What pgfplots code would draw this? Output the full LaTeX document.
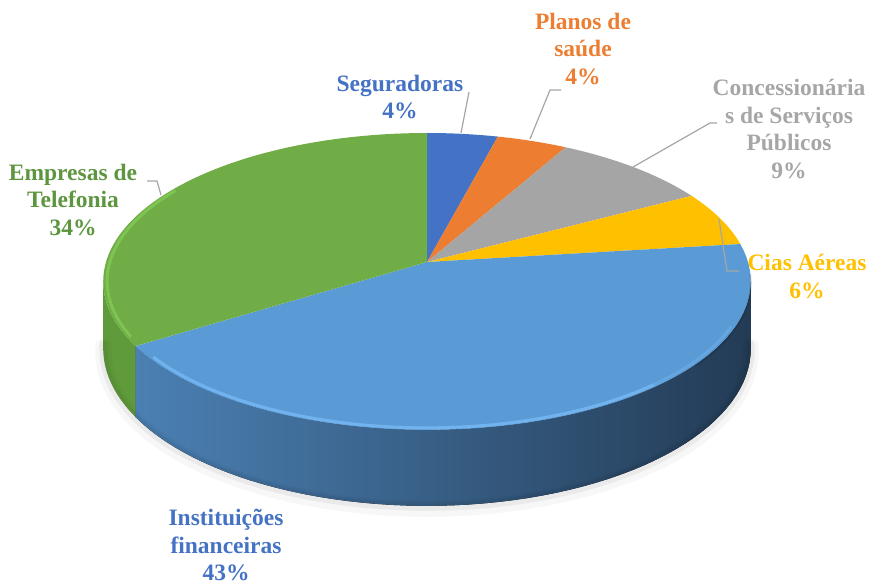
\documentclass[border=0pt]{standalone}
\usepackage{pgfplots}
\pgfplotsset{compat=1.18}
\usepackage{pgfplotstable}
\usepgfplotslibrary{fillbetween}
\usepackage{fontspec}
\setmainfont{Liberation Serif}
\definecolor{cSeg}{HTML}{4472C4}
\definecolor{cPla}{HTML}{ED7D31}
\definecolor{cCon}{HTML}{A5A5A5}
\definecolor{cCia}{HTML}{FFC000}
\definecolor{cIns}{HTML}{5B9BD5}
\definecolor{cTel}{HTML}{70AD47}
\definecolor{cTelSide}{HTML}{5F9B3B}
\definecolor{cTelRim}{HTML}{82CA56}
\definecolor{cInsRim}{HTML}{78BCF8}
\definecolor{cInsL}{HTML}{4B80B3}
\definecolor{cInsM}{HTML}{2F5479}
\definecolor{cInsR}{HTML}{233B55}
\definecolor{cLead}{HTML}{A6A6A6}
\definecolor{tBlue}{HTML}{4472C4}
\definecolor{tGreen}{HTML}{5E9640}
\definecolor{tGray}{HTML}{A6A6A6}

\pgfplotstableread{
name pct
Seguradoras 4
Planos 4
Concessionarias 9
CiasAereas 6
Instituicoes 43
Telefonia 34
}\piedata

\begin{document}
\begin{tikzpicture}
\pgfplotstablegetelem{0}{pct}\of\piedata \edef\pA{\pgfplotsretval}
\pgfplotstablegetelem{1}{pct}\of\piedata \edef\pB{\pgfplotsretval}
\pgfplotstablegetelem{2}{pct}\of\piedata \edef\pC{\pgfplotsretval}
\pgfplotstablegetelem{3}{pct}\of\piedata \edef\pD{\pgfplotsretval}
\pgfplotstablegetelem{4}{pct}\of\piedata \edef\pE{\pgfplotsretval}
\pgfplotstablegetelem{5}{pct}\of\piedata \edef\pF{\pgfplotsretval}
\pgfmathsetmacro\aA{90}
\pgfmathsetmacro\aB{\aA-3.6*\pA}
\pgfmathsetmacro\aC{\aB-3.6*\pB}
\pgfmathsetmacro\aD{\aC-3.6*\pC}
\pgfmathsetmacro\aE{\aD-3.6*\pD}
\pgfmathsetmacro\aF{\aE-3.6*\pE}
\pgfmathsetmacro\aG{\aF-3.6*\pF}
\pgfmathsetmacro\aFa{\aF+5}
\begin{axis}[hide axis, x=1pt, y=1pt, xmin=0, xmax=869, ymin=0, ymax=584,
  enlargelimits=false, clip=false, samples=60, variable=\t,
  declare function={dn(\t)=1+0.131*sin(\t);
    PX(\t)=427+321*cos(\t)/dn(\t);
    PY(\t)=322+145.9*sin(\t)/dn(\t);
    DP(\t)=66/dn(\t);
    RX(\t)=427+0.988*(PX(\t)-427);
    RY(\t)=322+0.988*(PY(\t)-322);}]
\coordinate (BL) at (axis cs:0,0);
\coordinate (TR) at (axis cs:869,584);
% shadow
\addplot[draw=black, opacity=0.03, line width=16pt, domain=-176:-4] ({PX(\t)},{PY(\t)-DP(\t)-3});
\addplot[draw=black, opacity=0.05, line width=8pt, domain=-176:-4] ({PX(\t)},{PY(\t)-DP(\t)-1});
% side walls
\addplot[draw=none, name path=gt, domain=-172.5:\aF] ({PX(\t)},{PY(\t)});
\addplot[draw=none, name path=gb, domain=-172.5:\aF] ({PX(\t)},{PY(\t)-DP(\t)});
\addplot[fill=cTelSide, draw=none] fill between[of=gt and gb];
\addplot[draw=none, name path=bt, domain=\aF:-7.5] ({PX(\t)},{PY(\t)});
\addplot[draw=none, name path=bb, domain=\aF:-7.5] ({PX(\t)},{PY(\t)-DP(\t)});
\addplot[left color=cInsL, middle color=cInsM, right color=cInsR, draw=none] fill between[of=bt and bb];
% top faces
\addplot[fill=cSeg, draw=none, domain=\aB:\aA] ({PX(\t)},{PY(\t)}) -- (axis cs:427,322) -- cycle;
\addplot[fill=cPla, draw=none, domain=\aC:\aB] ({PX(\t)},{PY(\t)}) -- (axis cs:427,322) -- cycle;
\addplot[fill=cCon, draw=none, domain=\aD:\aC] ({PX(\t)},{PY(\t)}) -- (axis cs:427,322) -- cycle;
\addplot[fill=cCia, draw=none, domain=\aE:\aD] ({PX(\t)},{PY(\t)}) -- (axis cs:427,322) -- cycle;
\addplot[fill=cIns, draw=none, domain=\aF:\aE] ({PX(\t)},{PY(\t)}) -- (axis cs:427,322) -- cycle;
\addplot[fill=cTel, draw=none, domain=\aG:\aF] ({PX(\t)},{PY(\t)}) -- (axis cs:427,322) -- cycle;
% rim highlights (bevel)
\addplot[draw=cInsRim, line width=3pt, opacity=0.75, domain=\aFa:-50] ({RX(\t)},{RY(\t)});
\addplot[draw=cInsRim, line width=3pt, opacity=0.35, domain=-50:-25] ({RX(\t)},{RY(\t)});
\addplot[draw=black, line width=2pt, opacity=0.12, domain=-40:-4] ({PX(\t)},{PY(\t)-1.5});
\addplot[draw=cTelRim, line width=3pt, opacity=0.8, domain=-212:-151] ({RX(\t)},{RY(\t)});
% leader lines
\draw[cLead, line width=1.2pt] (axis cs:461,451) -- (axis cs:469,492);
\draw[cLead, line width=1.2pt] (axis cs:530,445) -- (axis cs:550,494) -- (axis cs:561,494);
\draw[cLead, line width=1.2pt] (axis cs:633,417) -- (axis cs:710,461) -- (axis cs:717,461);
\draw[cLead, line width=1.2pt] (axis cs:719,365) -- (axis cs:727,313) -- (axis cs:739,313);
\draw[cLead, line width=1.2pt] (axis cs:161,389) -- (axis cs:157,403) -- (axis cs:147,403);
% labels
\tikzset{lbl/.style={font=\fontsize{23.5}{27.5}\selectfont\bfseries, align=center, inner sep=0pt}}
\node[lbl, text=tBlue] at (axis cs:400,487) {Seguradoras\\4\%};
\node[lbl, text=cPla] at (axis cs:583,535) {Planos de\\saúde\\4\%};
\node[lbl, text=tGray] at (axis cs:789,455) {Concessionária\\s de Serviços\\Públicos\\9\%};
\node[lbl, text=cCia] at (axis cs:807,307.5) {Cias Aéreas\\6\%};
\node[lbl, text=tGreen] at (axis cs:73,384) {Empresas de\\Telefonia\\34\%};
\node[lbl, text=tBlue] at (axis cs:226,39) {Instituições\\financeiras\\43\%};
\end{axis}
\pgfresetboundingbox
\path[use as bounding box] (BL) rectangle (TR);
\end{tikzpicture}
\end{document}
